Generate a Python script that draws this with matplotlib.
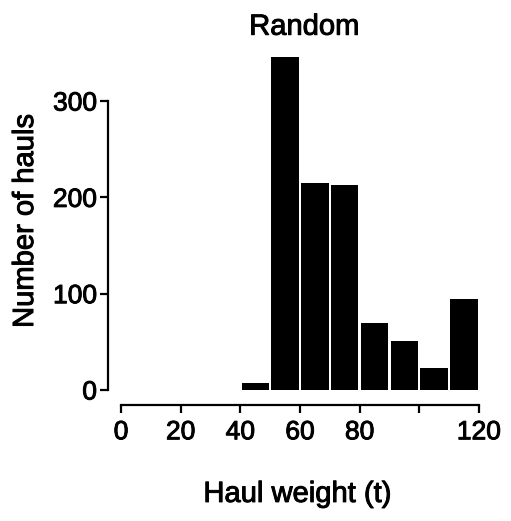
import matplotlib
matplotlib.use("Agg")
import matplotlib.pyplot as plt
import matplotlib.patheffects as pe

# Histogram of haul weights (10 t bins)
bin_left = [40, 50, 60, 70, 80, 90, 100, 110]
n_hauls = [7, 346, 215, 213, 70, 51, 23, 94]

x_ticks = [0, 20, 40, 60, 80, 100, 120]
x_tick_labels = ["0", "20", "40", "60", "80", "", "120"]
y_ticks = [0, 100, 200, 300]

plt.rcParams["font.family"] = ["Liberation Sans", "DejaVu Sans"]

fig = plt.figure(figsize=(5.11, 5.21), dpi=100)
ax = fig.add_axes([0.2114, 0.2226, 0.7339, 0.6814])

ax.bar([b + 0.4 for b in bin_left], n_hauls, width=9.2, align="edge",
       color="black", edgecolor="black", linewidth=0)

ax.set_xlim(-4.36, 121.4)
ax.set_ylim(-15.6, 353)

for s in ["top", "right"]:
    ax.spines[s].set_visible(False)
for s in ["left", "bottom"]:
    ax.spines[s].set_linewidth(1.6)
ax.spines["left"].set_bounds(0, 300)
ax.spines["bottom"].set_bounds(0, 120)

ax.set_xticks(x_ticks)
ax.set_xticklabels(x_tick_labels)
ax.set_yticks(y_ticks)
ax.tick_params(axis="x", length=6, width=1.6, pad=5, labelsize=19)
ax.tick_params(axis="y", length=6, width=1.6, pad=2, labelsize=19)

ax.set_title("Random", fontsize=21, pad=11, x=0.523)
ax.set_xlabel("Haul weight (t)", fontsize=21)
ax.set_ylabel("Number of hauls", fontsize=21)
ax.xaxis.set_label_coords(0.505, -0.211)
ax.yaxis.set_label_coords(-0.184, 0.518)

# scanned original has slightly heavier lettering
thick = [pe.withStroke(linewidth=0.7, foreground="black")]
texts = [ax.title, ax.xaxis.label, ax.yaxis.label]
texts += ax.get_xticklabels() + ax.get_yticklabels()
for t in texts:
    t.set_path_effects(thick)

fig.savefig("out.png", dpi=100)
